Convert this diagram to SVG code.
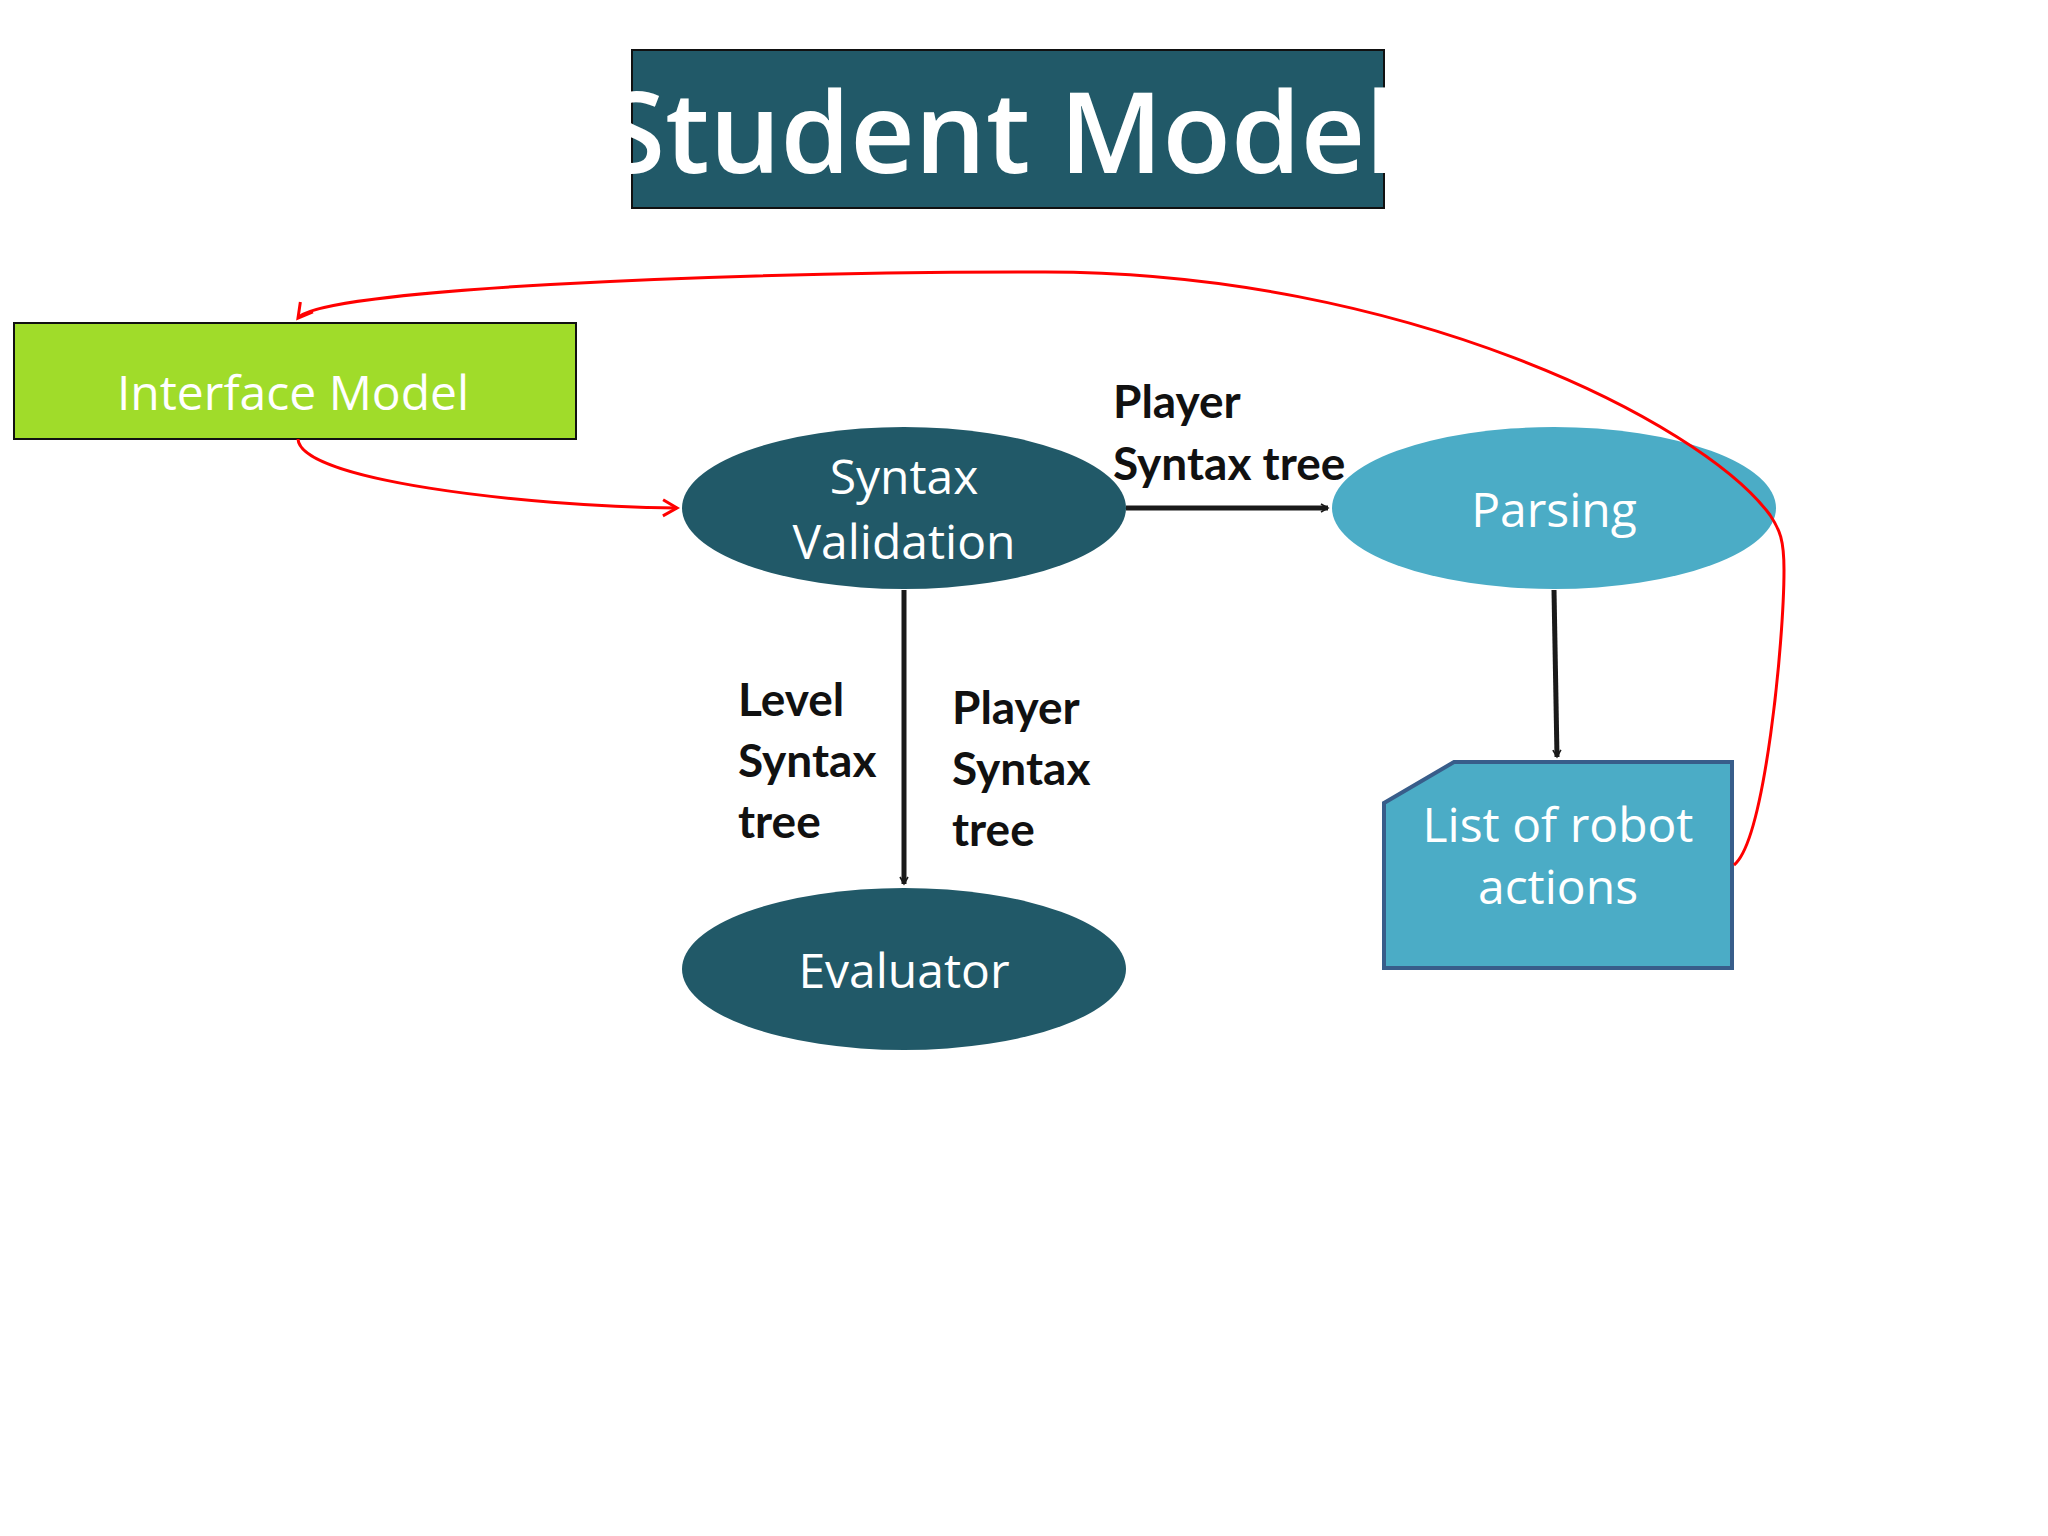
<svg xmlns="http://www.w3.org/2000/svg" width="2048" height="1536" viewBox="0 0 2048 1536">
<style>
.nt{font-family:"Open Sans","Liberation Sans",sans-serif;fill:#fff;text-anchor:middle;font-size:48px}
.lb{font-family:Lato,"Liberation Sans",sans-serif;font-weight:bold;fill:#111;font-size:46px}
.bk{stroke:#1a1a1a;stroke-width:5;fill:none}
.rd{stroke:#f00;stroke-width:3;fill:none}
</style>
<defs>
<marker id="ab" markerWidth="10" markerHeight="10" refX="8" refY="5" orient="auto" markerUnits="userSpaceOnUse" viewBox="0 0 10 10"><path d="M1,1 L8,5 L1,9" fill="none" stroke="#1a1a1a" stroke-width="1.6"/></marker>
<marker id="ar" markerWidth="24" markerHeight="24" refX="20" refY="12" orient="auto" markerUnits="userSpaceOnUse"><path d="M6,4 L20,12 L6,20" fill="none" stroke="#f00" stroke-width="3"/></marker>
</defs>
<rect width="2048" height="1536" fill="#fff"/>
<g id="title"><rect x="632" y="50" width="752" height="158" fill="#215968" stroke="#111" stroke-width="2"/><text x="1000" y="173" font-family="Open Sans,Liberation Sans,sans-serif" font-weight="600" font-size="112" fill="#fff" text-anchor="middle">Student Model</text></g>
<g id="interface"><rect x="14" y="323" width="562" height="116" fill="#A0DC2A" stroke="#111" stroke-width="2"/><text x="293" y="410" class="nt" font-size="72">Interface Model</text></g>
<g id="syntax"><ellipse cx="904" cy="508" rx="222" ry="81" fill="#215968"/><text x="904" y="494" class="nt">Syntax</text><text x="904" y="559" class="nt">Validation</text></g>
<g id="parsing"><ellipse cx="1554" cy="508" rx="222" ry="81" fill="#4BACC6"/><text x="1554" y="527" class="nt">Parsing</text></g>
<g id="evaluator"><ellipse cx="904" cy="969" rx="222" ry="81" fill="#215968"/><text x="904" y="988" class="nt">Evaluator</text></g>
<g id="list"><path d="M1384,803 L1454,762 L1732,762 L1732,968 L1384,968 Z" fill="#4BACC6" stroke="#385D8A" stroke-width="4"/><text x="1558" y="842" class="nt">List of robot</text><text x="1558" y="904" class="nt">actions</text></g>
<g id="connectors">
<path class="bk" d="M1126,508 L1328,508" marker-end="url(#ab)"/>
<path class="bk" d="M904,590 L904,884" marker-end="url(#ab)"/>
<path class="bk" d="M1554,590 L1557,757" marker-end="url(#ab)"/>
<path class="rd" d="M298,439 C300,480 520,506 677,508" marker-end="url(#ar)"/>
<path class="rd" d="M1734,865 C1765,840 1784,640 1784,570 C1784,540 1780,530 1770,515 C1700,420 1400,272 1045,272 C700,272 320,290 298,318" marker-end="url(#ar)"/>
<text class="lb" x="1113" y="418">Player</text><text class="lb" x="1113" y="480">Syntax tree</text>
<text class="lb" x="738" y="716">Level</text><text class="lb" x="738" y="777">Syntax</text><text class="lb" x="738" y="838">tree</text>
<text class="lb" x="952" y="724">Player</text><text class="lb" x="952" y="785">Syntax</text><text class="lb" x="952" y="846">tree</text>
</g>
</svg>
